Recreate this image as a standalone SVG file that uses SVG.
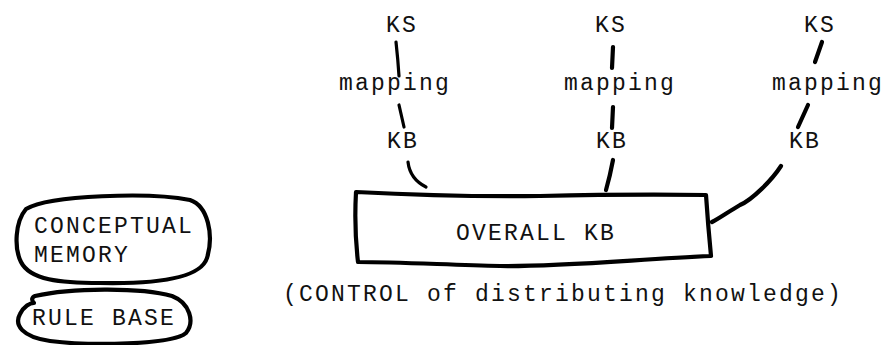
<svg xmlns="http://www.w3.org/2000/svg" width="885" height="345" viewBox="0 0 885 345">
  <style>
    .t { font-family: "Liberation Mono", "DejaVu Sans Mono", monospace; font-size: 23px; letter-spacing: 2.2px; fill: #111; }
    .m { text-anchor: middle; }
    .ink { fill: none; stroke: #000; stroke-linecap: round; stroke-linejoin: round; }
    .thin { stroke-width: 3.2; }
    .thick { stroke-width: 4.2; }
  </style>
  <rect width="885" height="345" fill="#fff"/>

  <!-- connectors -->
  <g id="connectors">
    <path class="ink thin" d="M396,42 Q398,60 399,76"/>
    <path class="ink thin" d="M399,105 L404,127"/>
    <path class="ink thin" d="M408,162 Q410,179 426,187"/>

    <path class="ink thick" d="M613,47 L612,68"/>
    <path class="ink thick" d="M613,107 L612,128"/>
    <path class="ink thick" d="M613,160 Q610,176 606,190"/>

    <path class="ink thick" d="M822,42 L815,62"/>
    <path class="ink thick" d="M808,105 L798,127"/>
    <path class="ink thick" d="M781,166 C772,180 752,200 740,205 C728,212 720,218 712,222"/>
  </g>

  <!-- top row: knowledge sources -->
  <g id="ks1"><text class="t m" x="402" y="32">KS</text></g>
  <g id="ks2"><text class="t m" x="611" y="32">KS</text></g>
  <g id="ks3"><text class="t m" x="820" y="32">KS</text></g>

  <g id="map1"><text class="t m" x="395" y="90">mapping</text></g>
  <g id="map2"><text class="t m" x="620" y="90">mapping</text></g>
  <g id="map3"><text class="t m" x="828" y="90">mapping</text></g>

  <g id="kb1"><text class="t m" x="403" y="148">KB</text></g>
  <g id="kb2"><text class="t m" x="612" y="148">KB</text></g>
  <g id="kb3"><text class="t m" x="805" y="148">KB</text></g>

  <!-- combined knowledge base -->
  <g id="overall-kb">
    <path class="ink thick" d="M356,192 Q450,197 540,196 Q630,194 706,195 Q708,225 711,256 C640,259 560,267 500,266 C450,265 400,262 358,262 Q354,228 356,192 Z"/>
    <text class="t m" x="536" y="240">OVERALL KB</text>
  </g>

  <g id="caption">
    <text class="t m" x="563" y="301">(CONTROL of distributing knowledge)</text>
  </g>

  <!-- memory stores -->
  <g id="conceptual-memory">
    <path class="ink thick" d="M26,209 C50,195 150,192 190,200 C208,206 214,235 207,258 C200,280 150,284 100,283 C60,283 30,280 21,262 C14,248 15,222 26,209 Z"/>
    <text class="t" x="34" y="233">CONCEPTUAL</text>
    <text class="t" x="34" y="262">MEMORY</text>
  </g>

  <g id="rule-base">
    <path class="ink thick" d="M35,296 C70,288 140,287 172,296 C190,303 195,322 186,333 C172,345 90,346 50,341 C22,337 14,325 20,314 C24,306 30,303 34,303 C31,300 32,297 35,296 Z"/>
    <text class="t" x="32" y="325">RULE BASE</text>
  </g>
</svg>
